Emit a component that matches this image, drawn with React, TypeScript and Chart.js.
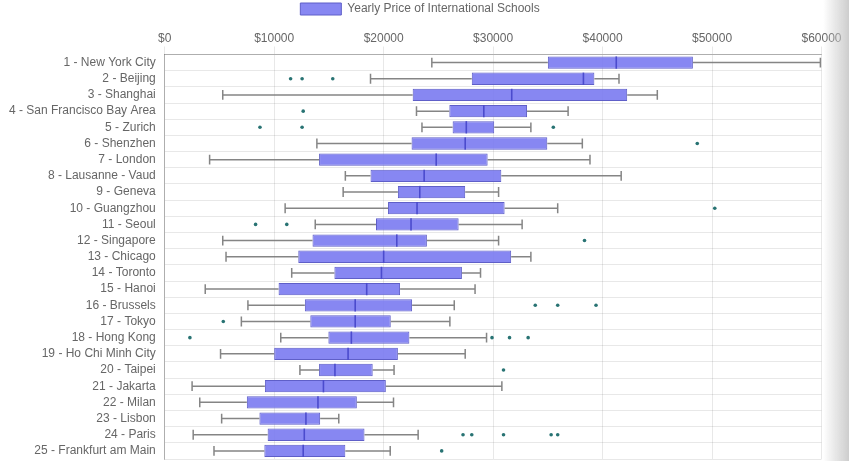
import React, { useEffect, useRef } from "react";
import { Chart, registerables } from "chart.js";

Chart.register(...registerables);

const categories: string[] = [
  "1 - New York City",
  "2 - Beijing",
  "3 - Shanghai",
  "4 - San Francisco Bay Area",
  "5 - Zurich",
  "6 - Shenzhen",
  "7 - London",
  "8 - Lausanne - Vaud",
  "9 - Geneva",
  "10 - Guangzhou",
  "11 - Seoul",
  "12 - Singapore",
  "13 - Chicago",
  "14 - Toronto",
  "15 - Hanoi",
  "16 - Brussels",
  "17 - Tokyo",
  "18 - Hong Kong",
  "19 - Ho Chi Minh City",
  "20 - Taipei",
  "21 - Jakarta",
  "22 - Milan",
  "23 - Lisbon",
  "24 - Paris",
  "25 - Frankfurt am Main",
];

const whiskerMin: number[] = [24400, 18800, 5300, 23000, 23500, 13900, 4100, 16500, 16300, 11000, 13750, 5300, 5600, 11600, 3700, 7600, 7000, 10600, 5100, 12350, 2500, 3200, 5200, 2600, 4500];
const q1: number[] = [35000, 28050, 22650, 26000, 26300, 22550, 14100, 18800, 21300, 20400, 19300, 13500, 12200, 15500, 10400, 12800, 13300, 14950, 10000, 14100, 9150, 7500, 8650, 9400, 9100];
const median: number[] = [41250, 38250, 31700, 29150, 27550, 27450, 24800, 23700, 23300, 23050, 22500, 21200, 20000, 19800, 18450, 17400, 17400, 17050, 16750, 15550, 14500, 14000, 12900, 12750, 12650];
const q3: number[] = [48250, 39250, 42250, 33100, 30100, 34950, 29500, 30750, 27450, 31050, 26850, 23950, 31650, 27150, 21500, 22600, 20650, 22350, 21300, 19000, 20200, 17550, 14200, 18250, 16500];
const whiskerMax: number[] = [59900, 41500, 45000, 36850, 33450, 38150, 38850, 41700, 30500, 35900, 32650, 30500, 33450, 28850, 28350, 26450, 26050, 29400, 27450, 20950, 30800, 20900, 15900, 23150, 20600];
const outliers: number[][] = [
  [],
  [11500, 12550, 15350],
  [],
  [12650],
  [8700, 12550, 35500],
  [48650],
  [],
  [],
  [],
  [50250],
  [8300, 11150],
  [38350],
  [],
  [],
  [],
  [33850, 35900, 39400],
  [5350],
  [2300, 29900, 31500, 33200],
  [],
  [30950],
  [],
  [],
  [],
  [27250, 28050, 30950, 35300, 35900],
  [25300],
];
const xTicks: number[] = [0, 10000, 20000, 30000, 40000, 50000, 60000];
const seriesLabel = "Yearly Price of International Schools";

const FONT = "'Liberation Sans', Arial, Helvetica, sans-serif";

const boxExtras = {
  id: "boxExtras",
  afterDatasetsDraw(chart: any) {
    const meta = chart.getDatasetMeta(0);
    const xs = chart.scales.x;
    const ctx = chart.ctx;
    ctx.save();
    meta.data.forEach((bar: any, i: number) => {
      const y = bar.y;
      const h = bar.height;
      const pMin = xs.getPixelForValue(whiskerMin[i]);
      const pQ1 = xs.getPixelForValue(q1[i]);
      const pQ3 = xs.getPixelForValue(q3[i]);
      const pMax = xs.getPixelForValue(whiskerMax[i]);
      const pMed = xs.getPixelForValue(median[i]);
      ctx.strokeStyle = "rgba(120,120,120,0.9)";
      ctx.lineWidth = 1.5;
      ctx.beginPath();
      ctx.moveTo(pMin, y);
      ctx.lineTo(pQ1, y);
      ctx.moveTo(pQ3, y);
      ctx.lineTo(pMax, y);
      const cap = h * 0.4;
      ctx.moveTo(pMin, y - cap);
      ctx.lineTo(pMin, y + cap);
      ctx.moveTo(pMax, y - cap);
      ctx.lineTo(pMax, y + cap);
      ctx.stroke();
      ctx.strokeStyle = "rgb(75,75,205)";
      ctx.lineWidth = 1.6;
      ctx.beginPath();
      ctx.moveTo(pMed, y - h / 2);
      ctx.lineTo(pMed, y + h / 2);
      ctx.stroke();
      ctx.fillStyle = "rgb(40,115,115)";
      outliers[i].forEach((v) => {
        const px = xs.getPixelForValue(v);
        ctx.beginPath();
        ctx.arc(px, y, 1.8, 0, Math.PI * 2);
        ctx.fill();
      });
    });
    ctx.restore();
  },
};

export default function App() {
  const ref = useRef<HTMLCanvasElement | null>(null);
  useEffect(() => {
    if (!ref.current) return;
    const chart = new Chart(ref.current, {
      type: "bar",
      data: {
        labels: categories,
        datasets: [
          {
            label: seriesLabel,
            data: categories.map((_, i) => [q1[i], q3[i]]) as any,
            backgroundColor: "rgba(118,118,240,0.88)",
            borderColor: "rgb(95,95,200)",
            borderWidth: 1,
            borderSkipped: false,
            categoryPercentage: 0.8,
            barPercentage: 0.95,
          },
        ],
      },
      options: {
        indexAxis: "y",
        animation: false,
        responsive: true,
        maintainAspectRatio: false,
        layout: { padding: { left: 0, right: 9, top: 0, bottom: 2 } },
        plugins: {
          legend: {
            position: "top",
            labels: {
              boxWidth: 41,
              boxHeight: 12,
              padding: 3,
              color: "#666",
              font: { family: FONT, size: 12 },
            },
          },
          tooltip: { enabled: false },
        },
        scales: {
          x: {
            position: "top",
            min: 0,
            max: 60000,
            afterBuildTicks: (scale: any) => {
              scale.ticks = xTicks.map((v) => ({ value: v }));
            },
            afterFit: (scale: any) => {
              scale.paddingRight = 27.5;
              scale.height = 29.5;
            },
            ticks: {
              color: "#666",
              font: { family: FONT, size: 12 },
              padding: 1,
              callback: (v: any) => "$" + v,
            },
            grid: { color: "rgba(0,0,0,0.09)", drawTicks: true, tickLength: 8 },
            border: { color: "rgba(0,0,0,0.25)" },
          },
          y: {
            afterFit: (scale: any) => {
              scale.paddingTop = 0;
              scale.paddingBottom = 0;
            },
            ticks: {
              color: "#666",
              font: { family: FONT, size: 12 },
              padding: 9,
              autoSkip: false,
            },
            grid: { color: "rgba(0,0,0,0.09)", drawTicks: false, offset: true },
            border: { color: "rgba(0,0,0,0.25)" },
          },
        },
      },
      plugins: [boxExtras],
    });
    return () => chart.destroy();
  }, []);

  return (
    <div style={{ position: "fixed", left: 0, top: 0, width: 849, height: 461, background: "#fff" }}>
      <canvas ref={ref} />
      <div
        style={{
          position: "absolute",
          right: 0,
          top: 0,
          width: 26,
          height: 461,
          background: "linear-gradient(to right, rgba(255,255,255,0), rgba(200,200,200,0.9))",
          pointerEvents: "none",
        }}
      />
    </div>
  );
}
